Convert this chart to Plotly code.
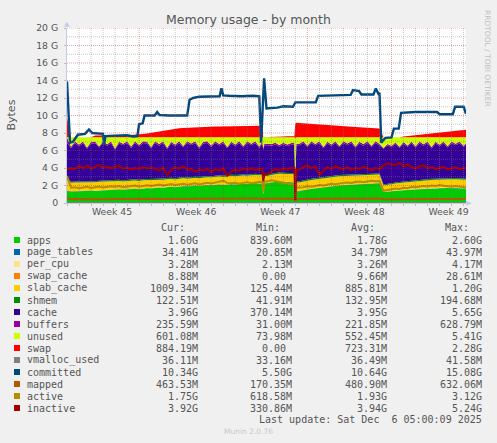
import numpy as np
import plotly.graph_objects as go

# one reading every 8 hours (days from the left edge of the graph),
# plus a few extra readings round the two short drops in week 47
days = sorted(list(np.arange(101) / 3) + [16.25, 16.42, 18.92, 19.08])

# stacked areas (GB)
apps = [1.40, 1.30, 1.32, 1.35, 1.30, 1.36, 1.40, 1.38, 1.42, 1.45,
        1.50, 1.48, 1.52, 1.55, 1.50, 1.56, 1.60, 1.62, 1.58, 1.65,
        1.68, 1.66, 1.72, 1.78, 1.75, 1.82, 1.85, 1.80, 1.88, 1.92,
        1.90, 1.95, 1.98, 1.94, 2.00, 2.04, 2.02, 2.08, 2.10, 2.05,
        2.12, 2.15, 2.12, 2.18, 2.20, 2.16, 2.22, 2.25, 2.20, 2.20, 1.00,
        2.22, 2.25, 2.35, 2.40, 2.45, 2.42, 2.38, 2.35, 2.33, 1.30, 1.33, 1.35, 1.45,
        1.55, 1.60, 1.65, 1.72, 1.78, 1.85, 1.90, 1.95, 2.00, 2.02,
        2.05, 2.08, 2.10, 2.12, 2.15, 2.18, 2.20, 2.22, 2.25, 1.25,
        1.30, 1.35, 1.38, 1.42, 1.45, 1.50, 1.52, 1.55, 1.58, 1.60,
        1.62, 1.65, 1.66, 1.68, 1.70, 1.72, 1.70, 1.68, 1.65, 1.62,
        1.60]
slab_cache = [1.20, 0.95, 0.96, 0.94, 0.95, 0.97, 0.95, 0.94, 0.96, 0.95,
              0.93, 0.92, 0.94, 0.93, 0.91, 0.92, 0.90, 0.91, 0.89, 0.90,
              0.88, 0.87, 0.86, 0.85, 0.86, 0.84, 0.85, 0.83, 0.84, 0.85,
              0.83, 0.84, 0.82, 0.83, 0.84, 0.85, 0.86, 0.85, 0.87, 0.88,
              0.87, 0.88, 0.89, 0.90, 0.89, 0.90, 0.91, 0.90, 0.91, 0.91, 0.40,
              0.80, 0.80, 0.82, 0.84, 0.85, 0.86, 0.88, 0.90, 0.90, 0.13, 0.95, 0.95, 0.96,
              0.97, 0.98, 0.99, 1.00, 1.00, 1.00, 1.01, 1.01, 1.00, 1.00,
              0.99, 0.99, 0.98, 0.98, 0.97, 0.97, 0.96, 0.96, 0.95, 0.70,
              0.75, 0.78, 0.80, 0.82, 0.84, 0.86, 0.88, 0.90, 0.91, 0.92,
              0.93, 0.94, 0.95, 0.96, 0.97, 0.98, 0.99, 1.00, 1.00, 1.01,
              1.01]
cache = [4.12, 3.87, 4.39, 4.03, 4.42, 3.69, 4.27, 4.35, 3.79, 4.27,
         3.94, 4.27, 3.46, 4.14, 4.01, 4.19, 3.62, 4.14, 3.80, 4.12,
         4.06, 3.54, 4.09, 3.74, 4.06, 3.31, 3.92, 3.69, 3.95, 3.40,
         3.94, 3.63, 3.87, 3.25, 3.78, 3.78, 3.34, 3.74, 3.40, 3.74,
         3.08, 3.59, 3.31, 3.59, 3.08, 3.61, 3.29, 3.52, 3.01, 3.56, 4.52,
         3.40, 3.37, 3.20, 3.28, 2.97, 3.24, 3.06, 3.22, 3.24, 0.37, 4.14, 4.12, 4.26,
         3.70, 4.09, 3.73, 3.95, 3.29, 3.77, 3.41, 3.71, 3.17, 3.65,
         3.38, 3.60, 3.04, 3.52, 3.25, 3.52, 3.06, 3.49, 3.22, 4.07,
         4.37, 4.09, 4.39, 3.88, 4.33, 3.91, 4.27, 3.72, 4.18, 3.85,
         4.12, 3.48, 4.01, 3.68, 4.00, 3.47, 3.98, 3.74, 4.02, 3.59,
         4.06]
buffers = [0.60, 0.15, 0.20, 0.18, 0.20, 0.15, 0.20, 0.20, 0.15, 0.20,
           0.18, 0.20, 0.15, 0.20, 0.18, 0.20, 0.15, 0.20, 0.18, 0.20,
           0.20, 0.15, 0.20, 0.18, 0.20, 0.15, 0.20, 0.18, 0.20, 0.15,
           0.20, 0.18, 0.20, 0.15, 0.20, 0.20, 0.15, 0.20, 0.18, 0.20,
           0.15, 0.20, 0.18, 0.20, 0.15, 0.20, 0.18, 0.20, 0.15, 0.20, 0.15,
           0.18, 0.18, 0.18, 0.20, 0.18, 0.20, 0.18, 0.20, 0.20, 0.04, 0.18, 0.18, 0.20,
           0.15, 0.20, 0.18, 0.20, 0.15, 0.20, 0.18, 0.20, 0.15, 0.20,
           0.18, 0.20, 0.15, 0.20, 0.18, 0.20, 0.15, 0.20, 0.18, 0.10,
           0.15, 0.15, 0.18, 0.15, 0.20, 0.15, 0.20, 0.15, 0.20, 0.18,
           0.20, 0.15, 0.20, 0.18, 0.20, 0.15, 0.20, 0.18, 0.20, 0.15,
           0.20]
unused = [0.02, 1.07, 0.47, 0.84, 0.47, 1.17, 0.52, 0.47, 1.02, 0.47,
          0.79, 0.47, 1.27, 0.52, 0.74, 0.47, 1.07, 0.47, 0.89, 0.47,
          0.52, 1.12, 0.47, 0.79, 0.47, 1.22, 0.52, 0.84, 0.47, 1.02,
          0.47, 0.74, 0.47, 1.17, 0.52, 0.47, 0.97, 0.47, 0.79, 0.47,
          1.12, 0.52, 0.84, 0.47, 1.02, 0.47, 0.74, 0.47, 1.07, 0.47, 1.27,
          0.74, 0.74, 0.79, 0.62, 0.89, 0.62, 0.84, 0.67, 0.67, 5.41, 0.74, 0.74, 0.47,
          0.97, 0.47, 0.79, 0.47, 1.12, 0.52, 0.84, 0.47, 1.02, 0.47,
          0.74, 0.47, 1.07, 0.52, 0.79, 0.47, 0.97, 0.47, 0.74, 1.22,
          0.77, 0.97, 0.59, 1.07, 0.52, 0.92, 0.47, 1.02, 0.47, 0.79,
          0.47, 1.12, 0.52, 0.84, 0.47, 1.02, 0.47, 0.74, 0.47, 0.97,
          0.47]
swap = [2.20, 0.00, 0.00, 0.00, 0.00, 0.00, 0.00, 0.20, 0.22, 0.22,
        0.23, 0.22, 0.24, 0.24, 0.25, 0.24, 0.26, 0.27, 0.30, 0.38,
        0.42, 0.50, 0.58, 0.66, 0.74, 0.82, 0.90, 0.96, 1.00, 1.04,
        1.07, 1.10, 1.12, 1.14, 1.16, 1.18, 1.19, 1.20, 1.22, 1.23,
        1.24, 1.26, 1.27, 1.28, 1.30, 1.30, 1.31, 1.32, 1.32, 1.32, 0.00,
        0.00, 0.00, 0.05, 0.06, 0.08, 0.08, 0.10, 0.10, 0.10, 1.65, 1.64, 1.62, 1.58,
        1.55, 1.52, 1.48, 1.45, 1.42, 1.38, 1.35, 1.32, 1.28, 1.25,
        1.22, 1.18, 1.15, 1.12, 1.10, 1.08, 1.05, 1.02, 1.00, 0.00,
        0.00, 0.00, 0.00, 0.02, 0.10, 0.15, 0.20, 0.25, 0.30, 0.34,
        0.40, 0.45, 0.50, 0.55, 0.60, 0.65, 0.70, 0.75, 0.80, 0.85,
        0.88]

# the thin series, read less often
small_days = [0, 3, 6, 9, 12, 15, 18, 21, 24, 27, 30, 33.2]
page_tables = [0.030, 0.032, 0.033, 0.035, 0.036, 0.035, 0.037, 0.036, 0.038, 0.034, 0.035, 0.034]
per_cpu = [0.0030, 0.0031, 0.0032, 0.0033, 0.0033, 0.0032, 0.0034, 0.0033, 0.0034, 0.0032, 0.0033, 0.0033]
swap_cache = [0.020, 0.006, 0.008, 0.010, 0.012, 0.011, 0.009, 0.010, 0.012, 0.007, 0.009, 0.009]
shmem = [0.12, 0.13, 0.13, 0.14, 0.14, 0.13, 0.13, 0.14, 0.14, 0.12, 0.12, 0.12]
vmalloc_used = [0.034, 0.035, 0.036, 0.036, 0.037, 0.036, 0.037, 0.037, 0.036, 0.036, 0.036, 0.036]

# lines
committed_days = [0.0, 0.25, 0.5, 0.9, 1.5, 1.83, 2.1, 2.6, 3.0, 3.08, 3.2, 4.0, 4.5, 5.0, 5.5,
                  5.85, 6.0, 6.3, 6.45, 7.3, 7.5, 7.7, 8.5, 9.5, 10.0, 10.2, 10.5, 11.0, 12.7,
                  12.85, 13.0, 13.5, 14.5, 15.5, 16.0, 16.15, 16.4, 16.6, 17.5, 18.0, 18.8, 19.0,
                  20.7, 20.9, 22.5, 23.6, 23.8, 24.3, 24.5, 25.5, 25.7, 25.9, 26.0, 26.15, 26.5,
                  27.0, 27.2, 27.6, 27.8, 29.0, 30.8, 31.0, 32.1, 32.3, 33.0, 33.2]
committed = [13.9, 6.9, 7.0, 7.8, 7.9, 8.4, 8.0, 7.95, 7.9, 6.6, 7.65, 7.7, 7.75, 7.75, 7.6,
             7.65, 9.0, 9.1, 10.0, 10.0, 10.4, 10.05, 10.0, 10.05, 10.0, 11.8, 12.0, 12.15, 12.2,
             13.1, 12.3, 12.25, 12.2, 12.25, 12.2, 6.9, 14.25, 10.8, 10.9, 11.05, 11.0, 11.5,
             11.5, 12.25, 12.3, 12.35, 12.9, 12.8, 12.4, 12.4, 13.1, 12.5, 12.6, 6.9, 7.45,
             7.5, 8.5, 8.5, 10.3, 10.4, 10.4, 10.15, 10.15, 11.0, 11.0, 10.2]
mapped = [0.55, 0.44, 0.45, 0.44, 0.46, 0.45, 0.44, 0.45, 0.46, 0.45,
          0.44, 0.45, 0.46, 0.47, 0.46, 0.45, 0.46, 0.47, 0.46, 0.47,
          0.48, 0.47, 0.48, 0.47, 0.48, 0.49, 0.48, 0.47, 0.48, 0.49,
          0.48, 0.49, 0.50, 0.49, 0.48, 0.49, 0.50, 0.49, 0.50, 0.51,
          0.50, 0.49, 0.50, 0.51, 0.50, 0.51, 0.52, 0.51, 0.50, 0.50, 0.40,
          0.50, 0.50, 0.51, 0.52, 0.51, 0.52, 0.53, 0.52, 0.52, 0.17, 0.46, 0.46, 0.47,
          0.48, 0.47, 0.48, 0.49, 0.48, 0.49, 0.50, 0.49, 0.50, 0.51,
          0.50, 0.51, 0.50, 0.51, 0.52, 0.51, 0.52, 0.51, 0.52, 0.42,
          0.43, 0.44, 0.43, 0.44, 0.45, 0.44, 0.45, 0.46, 0.45, 0.46,
          0.45, 0.46, 0.47, 0.46, 0.47, 0.46, 0.47, 0.46, 0.47, 0.46,
          0.46]
active = [3.10, 1.75, 1.80, 1.70, 1.78, 1.85, 1.72, 1.80, 1.88, 1.76,
          1.82, 1.90, 1.85, 1.95, 1.80, 1.88, 1.92, 2.00, 1.86, 1.95,
          2.02, 1.95, 2.05, 2.10, 2.00, 2.12, 2.18, 2.05, 2.15, 2.20,
          2.10, 2.18, 2.25, 2.12, 2.20, 2.30, 2.22, 2.35, 2.45, 2.55,
          2.30, 2.25, 2.32, 2.20, 2.30, 2.38, 2.25, 2.35, 2.40, 2.40, 1.30,
          2.45, 2.45, 2.60, 2.50, 2.40, 2.30, 2.20, 2.15, 2.15, 0.62, 1.75, 1.75, 1.80,
          1.90, 1.85, 1.95, 2.05, 2.00, 2.10, 2.20, 2.15, 2.25, 2.30,
          2.35, 2.28, 2.40, 2.45, 2.38, 2.50, 2.55, 2.48, 2.52, 1.40,
          1.50, 1.55, 1.65, 1.60, 1.75, 1.70, 1.85, 1.80, 1.90, 1.95,
          1.88, 2.00, 1.95, 2.05, 1.98, 1.90, 1.85, 1.95, 1.88, 1.80,
          1.75]
inactive = [3.80, 4.00, 3.85, 4.20, 4.00, 4.30, 3.90, 4.15, 4.35, 4.00,
            4.20, 3.95, 4.10, 4.30, 3.90, 4.05, 3.85, 4.00, 3.90, 4.10,
            3.95, 4.05, 3.90, 3.70, 4.00, 3.20, 3.80, 4.10, 3.90, 4.20,
            3.75, 3.90, 3.60, 3.80, 3.70, 3.90, 3.55, 3.85, 3.70, 3.95,
            3.10, 3.60, 3.80, 3.70, 3.90, 3.80, 3.95, 3.75, 3.85, 3.85, 2.50,
            3.30, 3.30, 3.60, 3.90, 3.70, 3.95, 3.80, 4.00, 4.00, 0.33, 3.80, 3.80, 4.10,
            4.30, 4.00, 4.20, 3.20, 3.70, 4.10, 3.90, 4.20, 4.00, 3.85,
            4.10, 3.80, 4.00, 3.90, 4.15, 3.95, 3.70, 4.00, 3.85, 4.30,
            4.50, 4.40, 4.35, 4.60, 4.20, 4.40, 4.10, 3.90, 4.20, 4.30,
            3.95, 4.10, 3.85, 4.00, 4.15, 3.80, 3.95, 4.10, 3.85, 4.00,
            3.92]

# axes
y_ticks = [0, 2, 4, 6, 8, 10, 12, 14, 16, 18, 20]
y_labels = ["0", "2 G", "4 G", "6 G", "8 G", "10 G", "12 G", "14 G", "16 G", "18 G", "20 G"]
week_centers = [3.75, 10.75, 17.75, 24.75, 31.75]
week_labels = ["Week 45", "Week 46", "Week 47", "Week 48", "Week 49"]
week_bounds = [6, 13, 20, 27]

# legend table
names = ["apps", "page_tables", "per_cpu", "swap_cache", "slab_cache", "shmem", "cache", "buffers",
         "unused", "swap", "vmalloc_used", "committed", "mapped", "active", "inactive"]
colors = ["#00CC00", "#0066B3", "#FFE282", "#FF8000", "#FFCC00", "#008F00", "#330099", "#990099",
          "#CCFF00", "#FF0000", "#808080", "#00487D", "#B35A00", "#B38F00", "#A50000"]
cur = ["1.60G", "34.41M", "3.28M", "8.88M", "1009.34M", "122.51M", "3.96G", "235.59M",
       "601.08M", "884.19M", "36.11M", "10.34G", "463.53M", "1.75G", "3.92G"]
mins = ["839.60M", "20.85M", "2.13M", "0.00", "125.44M", "41.91M", "370.14M", "31.00M",
        "73.98M", "0.00", "33.16M", "5.50G", "170.35M", "618.58M", "330.86M"]
avgs = ["1.78G", "34.79M", "3.26M", "9.66M", "885.81M", "132.95M", "3.95G", "221.85M",
        "552.45M", "723.31M", "36.49M", "10.64G", "480.90M", "1.93G", "3.94G"]
maxs = ["2.60G", "43.97M", "4.17M", "28.61M", "1.20G", "194.68M", "5.65G", "628.79M",
        "5.41G", "2.28G", "41.58M", "15.08G", "632.06M", "3.12G", "5.24G"]

for s in (apps, slab_cache, cache, buffers, unused, swap, mapped, active, inactive):
    assert len(s) == len(days)

col = dict(zip(names, colors))
fig = go.Figure()

# stacked areas, bottom to top
stack = [("apps", days, apps), ("page_tables", small_days, page_tables),
         ("per_cpu", small_days, per_cpu), ("swap_cache", small_days, swap_cache),
         ("slab_cache", days, slab_cache), ("shmem", small_days, shmem),
         ("cache", days, cache), ("buffers", days, buffers),
         ("unused", days, unused), ("swap", days, swap)]
for name, x, y in stack:
    fig.add_trace(go.Scatter(x=x, y=y, name=name, mode="lines", stackgroup="mem",
                             stackgaps="interpolate", line=dict(width=0, color=col[name]),
                             fillcolor=col[name]))

lines = [("vmalloc_used", small_days, vmalloc_used, 1),
         ("committed", committed_days, committed, 2.4),
         ("mapped", days, mapped, 2),
         ("active", days, active, 2),
         ("inactive", days, inactive, 2)]
for name, x, y, w in lines:
    fig.add_trace(go.Scatter(x=x, y=y, name=name, mode="lines",
                             line=dict(width=w, color=col[name])))

# dotted grid on top of the data, like rrdtool
grey = "rgba(130,130,130,0.45)"
red = "rgba(190,50,50,0.45)"
for d in range(1, 34):
    c = red if d in week_bounds else grey
    fig.add_shape(type="line", xref="x", yref="paper", x0=d, x1=d, y0=0, y1=1,
                  line=dict(color=c, width=1, dash="1px,1px"), layer="above")
for v in range(1, 21):
    c = red if v in y_ticks else grey
    fig.add_shape(type="line", xref="paper", yref="y", x0=0, x1=1, y0=v, y1=v,
                  line=dict(color=c, width=1, dash="1px,1px"), layer="above")

axis_col = "#c4cbe8"
fig.update_xaxes(range=[0, 33.2], tickvals=week_centers, ticktext=week_labels,
                 showgrid=False, zeroline=False, showline=True, linecolor=axis_col,
                 ticks="", tickfont=dict(size=9.3, color="#555"),
                 minor=dict(dtick=1, tick0=0, ticks="outside", ticklen=2, tickcolor="#bbb"))
fig.update_yaxes(range=[0, 20], tickvals=y_ticks, ticktext=y_labels,
                 showgrid=False, zeroline=False, showline=True, linecolor=axis_col,
                 ticks="outside", ticklen=2, tickcolor="#bbb", ticklabelstandoff=4,
                 tickfont=dict(size=9.3, color="#555"))


def px_x(px):
    return (px - 67) / 399


def px_y(py):
    return (203 - py) / 175


ann = []


def text(s, x, y, size=10, color="#555", anchor="center", family="DejaVu Sans", angle=0):
    ann.append(dict(text=s, x=px_x(x), y=px_y(y), xref="paper", yref="paper",
                    xanchor=anchor, yanchor="middle", showarrow=False, borderpad=0,
                    textangle=angle, font=dict(size=size, color=color, family=family)))


mono = "DejaVu Sans Mono"
text("Memory usage - by month", 248.5, 19, size=12.5)
text("Bytes", 10.5, 115, size=11, angle=-90)
text("RRDTOOL / TOBI OETIKER", 487, 58, size=7.5, color="#c0c0c0", angle=90)
text("\u25B2", 67, 24, size=7, color=axis_col)
text("\u25B6", 469, 203, size=7, color=axis_col)

for h, xr in zip(["Cur:", "Min:", "Avg:", "Max:"], [185.7, 280.7, 375.7, 470]):
    text(h, xr, 227.3, anchor="right", family=mono)

for i, name in enumerate(names):
    yrow = 240 + 12 * i
    fig.add_shape(type="rect", xref="paper", yref="paper", x0=px_x(14), x1=px_x(20),
                  y0=px_y(yrow + 3), y1=px_y(yrow - 3), fillcolor=col[name], line=dict(width=0))
    text(name, 26.3, yrow, anchor="left", family=mono)
    for vals, xr in zip([cur, mins, avgs, maxs], [199, 293.3, 388.3, 483]):
        v = vals[i]
        if v[-1].isdigit():
            v = v + "\u00a0"
        text(v, xr, yrow, anchor="right", family=mono)

text("Last update: Sat Dec\u00a0\u00a06 05:00:09 2025", 483, 419.7, anchor="right", family=mono)
text("Munin 2.0.76", 248, 431.7, size=7.5, color="#c8c8c8")

fig.update_layout(width=497, height=443, margin=dict(l=67, r=31, t=28, b=240),
                  paper_bgcolor="#F0F0F0", plot_bgcolor="white", showlegend=False,
                  font=dict(family="DejaVu Sans", color="#555"), annotations=ann)

fig.write_html("out.html", config={"displayModeBar": False},
               post_script="document.body.style.margin='0';")
